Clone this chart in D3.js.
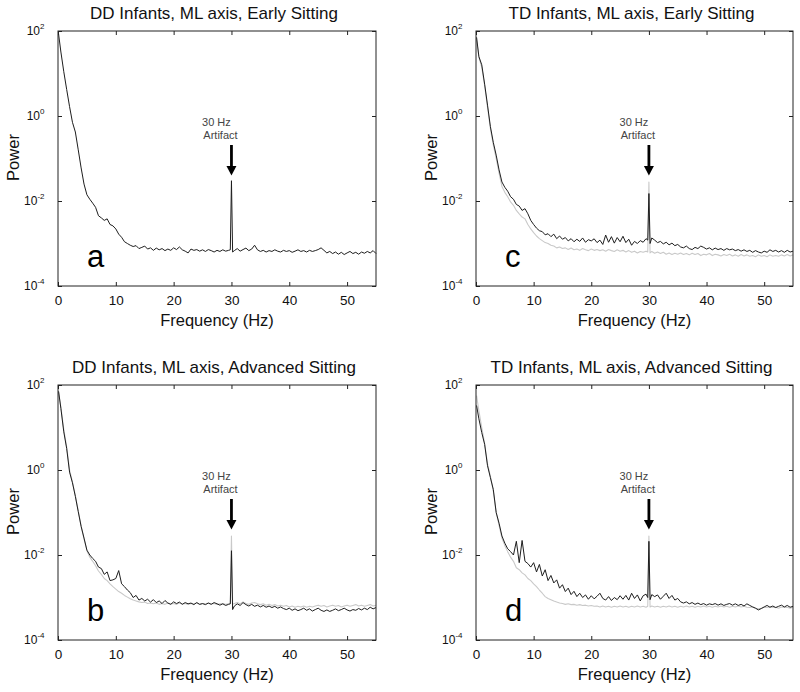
<!DOCTYPE html>
<html><head><meta charset="utf-8">
<script src="https://cdn.jsdelivr.net/npm/d3@7"></script>
<style>
body{margin:0;background:#fff}
svg{display:block}
text{font-family:"Liberation Sans",Arial,Helvetica,sans-serif}
</style>
</head><body>
<svg id="chart" width="800" height="692"></svg>
<script>
// ---------------- data ----------------
const freq = [
 0.1,0.5,1,1.5,2,2.5,3,3.5,4,4.5,
 5,5.5,6,6.5,7,7.5,8,8.5,9,9.5,
 10,10.5,11,11.5,12,12.5,13,13.5,14,14.5,
 15,15.5,16,16.5,17,17.5,18,18.5,19,19.5,
 20,20.5,21,21.5,22,22.5,23,23.5,24,24.5,
 25,25.5,26,26.5,27,27.5,28,28.5,29,29.5,
 29.8,30,30.2,30.5,31,31.5,32,32.5,33,33.5,
 34,34.5,35,35.5,36,36.5,37,37.5,38,38.5,
 39,39.5,40,40.5,41,41.5,42,42.5,43,43.5,
 44,44.5,45,45.5,46,46.5,47,47.5,48,48.5,
 49,49.5,50,50.5,51,51.5,52,52.5,53,53.5,
 54,54.5,55];

// a: DD, early sitting (black)
const powA = [
 85,32,11,4.2,1.66,0.71,0.42,0.16,0.06,0.025,
 0.014,0.011,0.0089,0.0071,0.0045,0.004,0.0035,0.0038,0.0028,0.0026,
 0.0022,0.00166,0.0014,0.0011,0.001,9.1e-4,8.5e-4,8.9e-4,7.6e-4,8.1e-4,
 8.7e-4,7.4e-4,7.9e-4,6.9e-4,7.8e-4,7.1e-4,7.6e-4,6.8e-4,7.4e-4,6.9e-4,
 7.9e-4,7.2e-4,8.3e-4,7.1e-4,6.6e-4,6.0e-4,7.4e-4,6.9e-4,7.2e-4,6.6e-4,
 7.1e-4,6.5e-4,7.2e-4,6.8e-4,6.3e-4,6.9e-4,6.5e-4,7.1e-4,6.6e-4,6.9e-4,
 7.1e-4,0.030,6.3e-4,6.8e-4,7.6e-4,6.6e-4,7.2e-4,7.8e-4,6.8e-4,7.4e-4,
 9.1e-4,7.1e-4,6.5e-4,6.9e-4,6.3e-4,6.8e-4,6.5e-4,7.1e-4,6.6e-4,6.3e-4,
 6.9e-4,6.5e-4,6.8e-4,6.2e-4,6.6e-4,7.1e-4,6.5e-4,6.8e-4,6.3e-4,6.9e-4,
 6.5e-4,6.8e-4,7.2e-4,7.9e-4,6.9e-4,6.0e-4,6.5e-4,5.8e-4,6.3e-4,5.6e-4,
 6.2e-4,5.5e-4,6.0e-4,6.5e-4,5.8e-4,6.2e-4,5.6e-4,6.3e-4,5.9e-4,6.5e-4,
 6.0e-4,6.8e-4,5.8e-4];

// b: DD, advanced sitting (black, grey)
const powB = [
 71,28,7.9,3.2,0.89,0.5,0.24,0.105,0.047,0.025,
 0.013,0.01,0.0083,0.0071,0.0052,0.0048,0.0035,0.004,0.0025,0.0026,
 0.0028,0.0043,0.0021,0.0018,0.0015,0.0013,0.001,0.00112,8.7e-4,9.5e-4,
 8.3e-4,9.1e-4,7.8e-4,8.9e-4,7.6e-4,8.3e-4,7.2e-4,8.5e-4,7.4e-4,6.9e-4,
 7.9e-4,7.2e-4,7.8e-4,6.9e-4,7.6e-4,7.1e-4,7.4e-4,6.8e-4,7.6e-4,6.9e-4,
 7.2e-4,6.8e-4,7.4e-4,6.9e-4,7.6e-4,7.1e-4,6.6e-4,7.1e-4,6.5e-4,6.9e-4,
 7.1e-4,0.0126,5.2e-4,6.3e-4,7.1e-4,6.5e-4,7.6e-4,6.8e-4,6.3e-4,6.9e-4,
 6.2e-4,6.6e-4,6.0e-4,6.5e-4,5.9e-4,6.3e-4,5.8e-4,6.2e-4,5.6e-4,6.0e-4,
 5.5e-4,5.2e-4,5.6e-4,5.0e-4,5.4e-4,4.9e-4,5.2e-4,5.6e-4,5.0e-4,5.4e-4,
 4.8e-4,5.2e-4,5.6e-4,5.0e-4,4.7e-4,5.1e-4,4.7e-4,5.0e-4,5.4e-4,4.9e-4,
 5.2e-4,5.6e-4,5.1e-4,4.8e-4,5.2e-4,5.0e-4,5.5e-4,5.1e-4,5.6e-4,5.2e-4,
 5.9e-4,5.4e-4,5.8e-4];
const powBg = [
 66,30,8.9,3.5,1.0,0.52,0.25,0.11,0.048,0.024,
 0.0126,0.0089,0.0071,0.0056,0.0042,0.0035,0.0028,0.0025,0.0021,0.0018,
 0.00158,0.00138,0.00126,0.00112,0.00102,9.3e-4,8.7e-4,8.3e-4,7.9e-4,7.6e-4,
 7.8e-4,7.2e-4,7.4e-4,7.1e-4,7.4e-4,6.9e-4,7.2e-4,6.9e-4,7.4e-4,7.1e-4,
 7.2e-4,6.9e-4,7.4e-4,7.1e-4,7.2e-4,6.9e-4,7.2e-4,7.1e-4,7.4e-4,6.9e-4,
 7.2e-4,7.1e-4,7.4e-4,7.1e-4,7.2e-4,6.9e-4,7.1e-4,7.2e-4,6.9e-4,7.1e-4,
 7.2e-4,0.028,6.9e-4,7.2e-4,7.6e-4,7.1e-4,7.9e-4,7.2e-4,6.9e-4,7.4e-4,
 7.6e-4,7.1e-4,6.8e-4,7.1e-4,6.6e-4,6.9e-4,6.5e-4,6.8e-4,6.3e-4,6.6e-4,
 6.2e-4,6.5e-4,6.0e-4,6.3e-4,5.9e-4,6.2e-4,6.0e-4,6.3e-4,5.9e-4,6.2e-4,
 6.0e-4,6.3e-4,6.6e-4,6.2e-4,6.5e-4,6.0e-4,6.3e-4,6.6e-4,6.2e-4,6.5e-4,
 6.0e-4,6.3e-4,6.6e-4,6.2e-4,6.5e-4,6.8e-4,6.3e-4,6.6e-4,6.2e-4,6.5e-4,
 6.8e-4,6.3e-4,6.6e-4];

// c: TD, early sitting (black, grey)
const powC = [
 71,25,16,5.6,1.8,0.56,0.24,0.12,0.054,0.028,
 0.021,0.017,0.0126,0.011,0.0083,0.0076,0.006,0.0066,0.005,0.0035,
 0.0028,0.0023,0.002,0.0019,0.0016,0.0017,0.00145,0.00166,0.0013,0.0015,
 0.00126,0.00138,0.00115,0.0013,0.0011,0.00126,0.00112,0.00135,0.00107,0.00123,
 0.00115,0.00129,0.00105,0.0012,9.5e-4,0.00158,0.00107,0.00145,0.00102,0.00138,
 0.0011,0.00148,0.00105,0.00126,9.1e-4,0.00112,0.001,0.00117,0.00107,0.0013,
 0.0012,0.015,0.001,0.00135,0.0012,0.00105,0.00112,9.8e-4,0.00107,9.3e-4,
 0.00102,8.9e-4,9.5e-4,8.3e-4,7.9e-4,8.7e-4,7.6e-4,7.2e-4,8.1e-4,7.6e-4,
 8.7e-4,8.1e-4,7.4e-4,7.9e-4,7.1e-4,7.8e-4,7.2e-4,7.6e-4,6.9e-4,7.6e-4,
 7.1e-4,7.4e-4,6.8e-4,7.2e-4,6.6e-4,7.1e-4,6.5e-4,6.9e-4,6.2e-4,6.8e-4,
 6.3e-4,6.0e-4,6.6e-4,6.2e-4,7.1e-4,6.5e-4,6.9e-4,6.3e-4,6.8e-4,6.2e-4,
 6.9e-4,6.3e-4,6.6e-4];
const powCg = [
 63,24,14,5.2,1.6,0.5,0.21,0.1,0.045,0.022,
 0.016,0.0126,0.0095,0.0079,0.006,0.005,0.0042,0.0038,0.0028,0.0022,
 0.0018,0.0015,0.0013,0.00117,0.00105,0.001,9.1e-4,8.7e-4,7.9e-4,8.3e-4,
 7.6e-4,7.9e-4,7.2e-4,7.8e-4,7.1e-4,7.4e-4,6.9e-4,7.6e-4,7.1e-4,6.8e-4,
 7.4e-4,6.9e-4,7.2e-4,6.8e-4,7.1e-4,6.6e-4,7.2e-4,6.8e-4,6.5e-4,7.1e-4,
 6.6e-4,6.9e-4,6.3e-4,6.8e-4,6.2e-4,6.6e-4,6.0e-4,6.5e-4,6.2e-4,6.6e-4,
 6.3e-4,0.028,6.0e-4,6.5e-4,5.9e-4,6.3e-4,5.8e-4,6.2e-4,5.6e-4,6.0e-4,
 5.5e-4,5.9e-4,5.6e-4,6.0e-4,5.5e-4,5.8e-4,5.4e-4,5.9e-4,5.5e-4,5.8e-4,
 5.2e-4,5.6e-4,5.4e-4,5.8e-4,5.2e-4,5.6e-4,5.4e-4,5.1e-4,5.5e-4,5.2e-4,
 5.6e-4,5.1e-4,5.4e-4,5.0e-4,5.5e-4,5.1e-4,5.4e-4,5.0e-4,5.2e-4,4.9e-4,
 5.4e-4,5.0e-4,5.2e-4,4.9e-4,5.4e-4,5.0e-4,5.2e-4,5.0e-4,5.4e-4,5.1e-4,
 5.5e-4,5.1e-4,5.4e-4];

// d: TD, advanced sitting (black, grey)
const powD = [
 33,16,7.6,4.0,1.26,0.66,0.35,0.1,0.056,0.028,
 0.019,0.014,0.012,0.01,0.021,0.0066,0.022,0.0071,0.0063,0.0052,
 0.0066,0.004,0.006,0.0032,0.0045,0.0025,0.0033,0.0022,0.0026,0.00166,
 0.002,0.00138,0.00166,0.00117,0.0014,0.00105,0.00126,0.001,0.00115,9.1e-4,
 0.0011,9.3e-4,0.00107,0.00126,9.5e-4,8.7e-4,0.00105,8.5e-4,0.001,8.9e-4,
 0.0011,9.1e-4,0.00112,8.7e-4,0.00126,9.5e-4,0.00115,8.3e-4,0.0011,0.0012,
 0.001,0.021,8.9e-4,0.00117,0.00105,0.00115,9.1e-4,0.00107,0.00126,9.5e-4,
 0.00112,8.7e-4,9.5e-4,7.9e-4,7.4e-4,7.9e-4,7.1e-4,7.6e-4,6.9e-4,7.4e-4,
 6.8e-4,7.2e-4,6.6e-4,7.1e-4,6.8e-4,7.2e-4,6.6e-4,7.1e-4,6.5e-4,6.9e-4,
 7.2e-4,6.6e-4,7.1e-4,6.5e-4,6.9e-4,6.3e-4,7.1e-4,6.5e-4,6.0e-4,5.6e-4,
 5.1e-4,5.5e-4,6.0e-4,6.5e-4,5.9e-4,6.3e-4,5.8e-4,6.2e-4,6.6e-4,6.0e-4,
 6.5e-4,5.9e-4,6.2e-4];
const powDg = [
 56,25,10,4.2,1.4,0.71,0.32,0.1,0.05,0.025,
 0.0166,0.012,0.0089,0.0071,0.005,0.0045,0.0038,0.0034,0.0028,0.0025,
 0.0021,0.0018,0.0015,0.00126,0.00105,9.5e-4,8.9e-4,8.3e-4,7.8e-4,7.4e-4,
 7.2e-4,6.9e-4,7.1e-4,6.8e-4,6.9e-4,6.6e-4,6.8e-4,6.5e-4,6.6e-4,6.3e-4,
 6.5e-4,6.2e-4,6.3e-4,6.0e-4,6.3e-4,6.0e-4,6.2e-4,5.9e-4,6.2e-4,6.0e-4,
 6.3e-4,6.0e-4,6.2e-4,5.9e-4,6.2e-4,6.0e-4,6.3e-4,6.0e-4,6.2e-4,5.9e-4,
 6.2e-4,0.028,6.0e-4,6.3e-4,6.0e-4,6.2e-4,5.9e-4,6.2e-4,6.0e-4,6.3e-4,
 6.0e-4,6.2e-4,5.9e-4,6.2e-4,6.0e-4,6.3e-4,6.0e-4,6.2e-4,5.9e-4,6.2e-4,
 6.0e-4,6.3e-4,6.0e-4,6.2e-4,5.9e-4,6.2e-4,6.0e-4,6.3e-4,6.0e-4,6.2e-4,
 5.9e-4,6.2e-4,6.0e-4,6.3e-4,6.0e-4,6.2e-4,5.9e-4,5.8e-4,6.0e-4,5.6e-4,
 5.4e-4,5.6e-4,5.9e-4,5.8e-4,6.0e-4,5.8e-4,5.9e-4,5.6e-4,6.0e-4,5.8e-4,
 5.9e-4,5.6e-4,5.9e-4];

const titles = [
 "DD Infants, ML axis, Early Sitting",
 "DD Infants, ML axis, Advanced Sitting",
 "TD Infants, ML axis, Early Sitting",
 "TD Infants, ML axis, Advanced Sitting"];
const panelLetters = ["a","b","c","d"];
const blackSeries = [powA, powB, powC, powD];
const greySeries = [null, powBg, powCg, powDg];
const xTickValues = [0,10,20,30,40,50];
const yTickValues = [1e-4,1e-2,1,1e2];
const yTickExponents = ["-4","-2","0","2"];
const xLabel = "Frequency (Hz)";
const yLabel = "Power";
const annotationLines = ["30 Hz","Artifact"];
const artifactFreq = 30;

// ---------------- layout ----------------
const boxes = [
 {left:58,  top:31,  width:318, height:255},
 {left:58,  top:385, width:318, height:255},
 {left:476, top:31,  width:317, height:255},
 {left:476, top:385, width:317, height:255}];

const svg = d3.select("#chart");

boxes.forEach((b, i) => {
  const g = svg.append("g").attr("transform", `translate(${b.left},${b.top})`);
  const x = d3.scaleLinear().domain([0,55]).range([0,b.width]);
  const y = d3.scaleLog().domain([1e-4,1e2]).range([b.height,0]);
  const line = d3.line().x(d => x(d.f)).y(d => y(d.p));

  const mk = arr => freq.map((f,k) => ({f, p: arr[k]}));

  if (greySeries[i]) {
    g.append("path").datum(mk(greySeries[i]))
      .attr("d", line).attr("fill","none")
      .attr("stroke","#c9c9c9").attr("stroke-width",1.1)
      .attr("stroke-linejoin","round");
  }
  g.append("path").datum(mk(blackSeries[i]))
    .attr("d", line).attr("fill","none")
    .attr("stroke","#1e1e1e").attr("stroke-width",1)
    .attr("stroke-linejoin","round");

  // axes with inward ticks
  const ax = (axis, tx, ty) => {
    const a = g.append("g").attr("transform", `translate(${tx},${ty})`).call(axis);
    a.select(".domain").remove();
    a.selectAll(".tick line").attr("stroke","#222");
    return a;
  };
  const bottom = ax(d3.axisBottom(x).tickValues(xTickValues).tickSize(-4).tickPadding(9).tickFormat(d3.format("d")), 0, b.height);
  bottom.selectAll("text").attr("font-size", 13.5).attr("fill","#111")
    .attr("font-family",'"Liberation Sans",Arial,sans-serif');
  ax(d3.axisTop(x).tickValues(xTickValues).tickSize(-4).tickFormat(""), 0, 0);
  ax(d3.axisLeft(y).tickValues(yTickValues).tickSize(-4).tickFormat(""), 0, 0);
  ax(d3.axisRight(y).tickValues(yTickValues).tickSize(-4).tickFormat(""), b.width, 0);

  // y tick labels 10^n
  yTickValues.forEach((v, k) => {
    const t = g.append("text").attr("x", -13.5).attr("y", y(v) + 4.3)
      .attr("text-anchor","end").attr("fill","#111").attr("font-size", 12);
    t.append("tspan").text("10");
    t.append("tspan").attr("dy", -6).attr("font-size", 8).text(yTickExponents[k]);
  });

  // frame
  g.append("rect").attr("x",0).attr("y",0).attr("width",b.width).attr("height",b.height)
    .attr("fill","none").attr("stroke","#222").attr("stroke-width",1);

  // title and axis labels
  g.append("text").attr("x", b.width/2 - 3).attr("y", -12).attr("text-anchor","middle")
    .attr("font-size", 17).attr("fill","#111").text(titles[i]);
  g.append("text").attr("x", b.width/2).attr("y", b.height + 40).attr("text-anchor","middle")
    .attr("font-size", 16.5).attr("fill","#111").text(xLabel);
  g.append("text").attr("transform", `translate(-39.5,${b.height/2 - 1}) rotate(-90)`)
    .attr("text-anchor","middle").attr("font-size", 16.5).attr("fill","#111").text(yLabel);

  // panel letter
  g.append("text").attr("x", 29).attr("y", b.height - 19)
    .attr("font-size", 31).attr("fill","#000").text(panelLetters[i]);

  // artifact annotation
  const ax30 = x(artifactFreq);
  g.append("text").attr("x", ax30 - 15).attr("y", 95).attr("text-anchor","middle")
    .attr("font-size", 11).attr("fill","#444").text(annotationLines[0]);
  g.append("text").attr("x", ax30 - 11).attr("y", 107.5).attr("text-anchor","middle")
    .attr("font-size", 11).attr("fill","#444").text(annotationLines[1]);
  g.append("line").attr("x1", ax30).attr("x2", ax30).attr("y1", 114).attr("y2", 137)
    .attr("stroke","#000").attr("stroke-width", 2.8);
  g.append("path").attr("d", `M${ax30-5},${135} L${ax30+5},${135} L${ax30},${144.5} Z`)
    .attr("fill","#000");
});
</script>
</body></html>
